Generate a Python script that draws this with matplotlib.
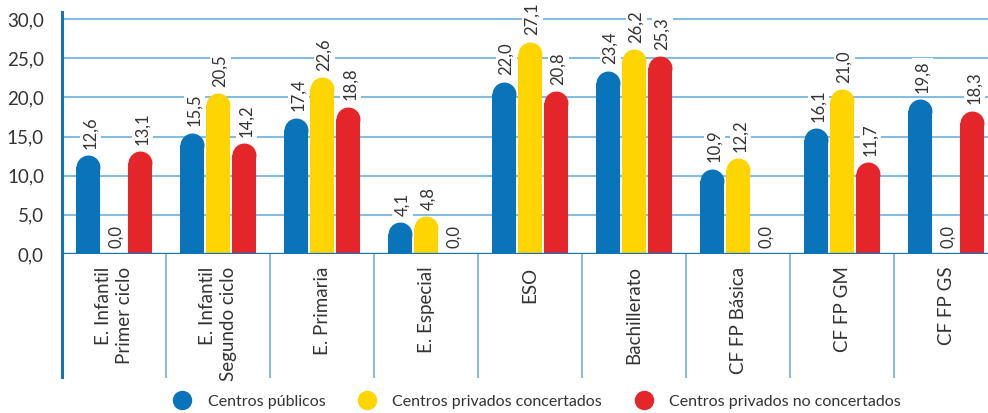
import matplotlib
matplotlib.use("Agg")
import matplotlib.pyplot as plt
from matplotlib.lines import Line2D
import numpy as np

plt.rcParams['font.family'] = ['Lato', 'DejaVu Sans']

categories = ["E. Infantil\nPrimer ciclo", "E. Infantil\nSegundo ciclo", "E. Primaria",
              "E. Especial", "ESO", "Bachillerato", "CF FP Básica", "CF FP GM", "CF FP GS"]
publicos = [12.6, 15.5, 17.4, 4.1, 22.0, 23.4, 10.9, 16.1, 19.8]
concertados = [0.0, 20.5, 22.6, 4.8, 27.1, 26.2, 12.2, 21.0, 0.0]
no_concertados = [13.1, 14.2, 18.8, 0.0, 20.8, 25.3, 0.0, 11.7, 18.3]
series_names = ["Centros públicos", "Centros privados concertados", "Centros privados no concertados"]
yticks = [0, 5, 10, 15, 20, 25, 30]

colors = ["#0a74ba", "#ffd500", "#e4262b"]
grid_color = "#86bbe2"
axis_blue = "#1473b9"
text_color = "#333333"

W, H, DPI = 988, 413, 100
fig = plt.figure(figsize=(W / DPI, H / DPI), dpi=DPI)
ax_left_px, ax_right_px = 62, 988
ax_bottom_px, ax_top_px = 254, 12
ax = fig.add_axes([ax_left_px / W, (H - ax_bottom_px) / H,
                   (ax_right_px - ax_left_px) / W, (ax_bottom_px - ax_top_px) / H])

group_px = 104.0
xmin = -0.5
xmax = xmin + (ax_right_px - ax_left_px) / group_px
ymax = 30 + (19 - ax_top_px) / ((254 - 19) / 30.0)
ax.set_xlim(xmin, xmax)
ax.set_ylim(0, ymax)

for s in ax.spines.values():
    s.set_visible(False)

# gridlines
for t in yticks[1:]:
    ax.axhline(t, color=grid_color, lw=1.5, zorder=0)

x = np.arange(len(categories))
offsets = [-0.25, 0.0, 0.25]
width = 0.23
ax_w_px = ax_right_px - ax_left_px
ax_h_px = ax_bottom_px - ax_top_px
px_per_x = ax_w_px / (xmax - xmin)
px_per_y = ax_h_px / ymax
r_px = width * px_per_x / 2
r_data = r_px / px_per_y
diam_pt = 2 * r_px * 72 / DPI

for vals, off, col in zip([publicos, concertados, no_concertados], offsets, colors):
    for xi, v in zip(x, vals):
        xc = xi + off
        if v > 0:
            body = max(v - r_data, 0)
            ax.bar(xc, body, width=width, color=col, zorder=2, linewidth=0)
            ax.plot([xc], [body], marker='o', markersize=diam_pt, color=col,
                    markeredgewidth=0, zorder=2, clip_on=False)
        label = f"{v:.1f}".replace(".", ",")
        ax.annotate(label, xy=(xc, v), xytext=(1.5, 4.5), textcoords='offset points',
                    rotation=90, ha='center', va='bottom', fontsize=12,
                    color=text_color, zorder=3,
                    bbox=dict(boxstyle='square,pad=0.15', fc='white', ec='none'))

# baseline
ax.axhline(0, color=axis_blue, lw=2.4, zorder=4)

# y axis line extended below
sep_bottom = -(377 - 254) / ax_h_px
ax.axvline(xmin, ymin=sep_bottom, ymax=1.0, color=axis_blue, lw=2.2, clip_on=False, zorder=5)
for i in range(1, len(categories)):
    ax.axvline(i - 0.5, ymin=sep_bottom, ymax=0, color=grid_color, lw=1.4, clip_on=False, zorder=1)

# category labels
for xi, c in zip(x, categories):
    ax.annotate(c, xy=(xi, 0), xycoords=('data', 'axes fraction'), xytext=(0, -9),
                textcoords='offset points', rotation=90, ha='center', va='top',
                multialignment='right', fontsize=13.5, color=text_color,
                linespacing=1.25, annotation_clip=False)

ax.set_xticks([])
ax.set_yticks(yticks)
ax.set_yticklabels([f"{t:.1f}".replace(".", ",") for t in yticks])
ax.tick_params(axis='y', length=0, pad=13, labelsize=13.5, labelcolor=text_color)

handles = [Line2D([], [], marker='o', linestyle='none', markersize=14,
                  markerfacecolor=c, markeredgewidth=0) for c in colors]
fig.legend(handles, series_names, loc='center', bbox_to_anchor=(0.54, 0.028),
           ncol=3, frameon=False, fontsize=11.5, handletextpad=0.6, columnspacing=1.6,
           labelcolor=text_color)

fig.savefig("out.png", dpi=DPI)
